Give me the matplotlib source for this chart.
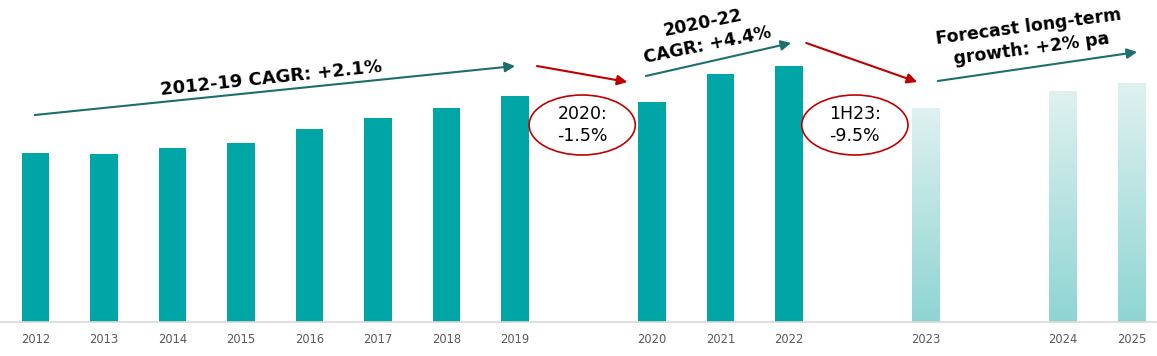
import matplotlib
matplotlib.use("Agg")
import matplotlib.pyplot as plt
from matplotlib.patches import Ellipse
import numpy as np

# data (bar heights, arbitrary units)
years = ["2012", "2013", "2014", "2015", "2016", "2017", "2018", "2019",
         "2020", "2021", "2022", "2023", "2024", "2025"]
slots = [0, 1, 2, 3, 4, 5, 6, 7, 9, 10, 11, 13, 15, 16]
values = [169, 168, 174, 179, 193, 204, 214, 226, 220, 248, 256, 214, 231, 239]
is_forecast = [False] * 11 + [True] * 3

teal = "#00A5A5"
dark_teal = "#1E6E6E"
red = "#C00000"

fig = plt.figure(figsize=(11.57, 3.56), dpi=100)
ax = fig.add_axes([0, 34 / 356, 1, 322 / 356])

solid_x = [s for s, f in zip(slots, is_forecast) if not f]
solid_v = [v for v, f in zip(values, is_forecast) if not f]
ax.bar(solid_x, solid_v, width=0.4, color=teal)

# forecast bars with vertical gradient
fc_x = [s for s, f in zip(slots, is_forecast) if f]
fc_v = [v for v, f in zip(values, is_forecast) if f]
fc_bars = ax.bar(fc_x, fc_v, width=0.4, color="none")
grad = np.linspace(0, 1, 256).reshape(-1, 1)
cmap = matplotlib.colors.LinearSegmentedColormap.from_list("fc", ["#8ED5D2", "#DFF1F0"])
for b in fc_bars:
    x0, w, h = b.get_x(), b.get_width(), b.get_height()
    im = ax.imshow(grad, cmap=cmap, origin="lower", aspect="auto",
                   extent=[x0, x0 + w, 0, h], zorder=2)
    im.set_clip_path(b)

ax.set_xlim(-0.518, 16.37)
ax.set_ylim(0, 322)
ax.set_xticks(slots)
ax.set_xticklabels(years, fontsize=8.3, color="#595959")
ax.tick_params(axis="x", length=0, pad=8)
ax.set_yticks([])
for side in ["top", "left", "right"]:
    ax.spines[side].set_visible(False)
ax.spines["bottom"].set_color("#D9D9D9")
ax.spines["bottom"].set_linewidth(1.2)

def arrow(x0, y0, x1, y1, col):
    ax.annotate("", xy=(x1, y1), xytext=(x0, y0),
                arrowprops=dict(arrowstyle="-|>", color=col, lw=1.5,
                                mutation_scale=15, shrinkA=0, shrinkB=0))

arrow(-0.01, 207, 7.0, 256, dark_teal)
arrow(7.32, 256, 8.64, 240, red)
arrow(8.91, 246, 11.03, 279, dark_teal)
arrow(11.25, 279, 12.87, 240, red)
arrow(13.17, 241, 16.08, 270, dark_teal)

ax.text(3.44, 244, "2012-19 CAGR: +2.1%", fontsize=13, fontweight="bold",
        rotation=6, ha="center", va="center", rotation_mode="anchor")
ax.text(9.77, 288, "2020-22\nCAGR: +4.4%", fontsize=12.5, fontweight="bold",
        rotation=11.5, ha="center", va="center", rotation_mode="anchor",
        multialignment="center", linespacing=1.3)
ax.text(14.52, 284, "Forecast long-term\ngrowth: +2% pa", fontsize=12.5,
        fontweight="bold", rotation=7.5, ha="center", va="center",
        rotation_mode="anchor", multialignment="center", linespacing=1.3)

for cx, label in [(7.98, "2020:\n-1.5%"), (11.96, "1H23:\n-9.5%")]:
    ax.add_patch(Ellipse((cx, 197), 1.55, 60, facecolor="white",
                         edgecolor=red, lw=1.2, zorder=3))
    ax.text(cx, 197, label, fontsize=12.5, ha="center", va="center",
            multialignment="center", linespacing=1.3, zorder=4)

fig.savefig("out.png", dpi=100)
